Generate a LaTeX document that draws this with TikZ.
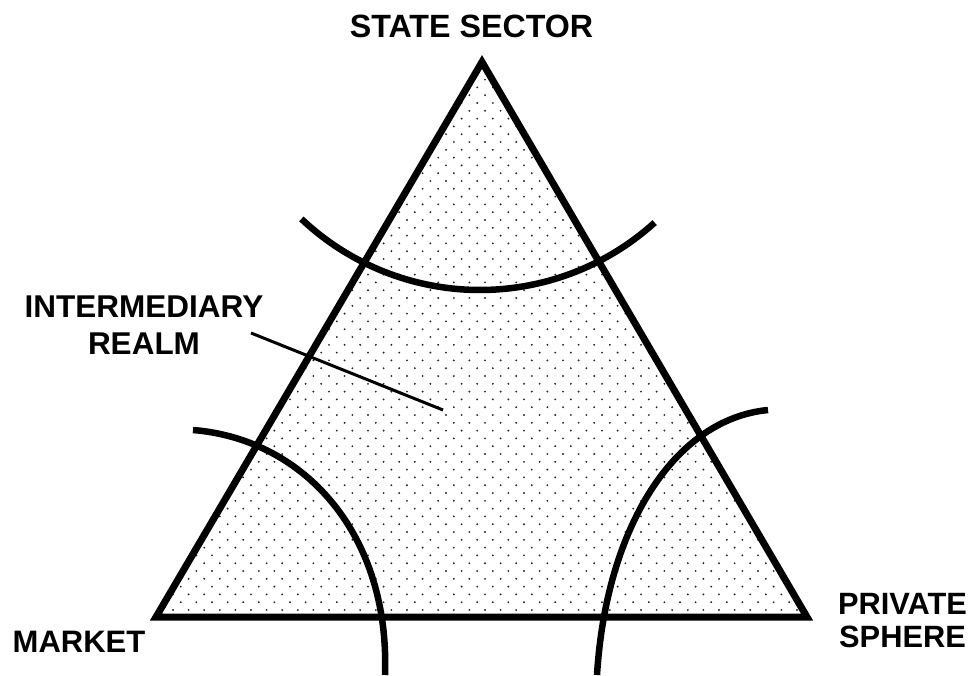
\documentclass[tikz,border=0pt]{standalone}
\usepackage{fontspec}
\setmainfont{Liberation Sans}
\begin{document}
\begin{tikzpicture}[x=1pt,y=-1pt,
  lbl/.style={font=\fontsize{31.5}{37}\selectfont\bfseries, inner sep=0pt, align=center},
  edgeline/.style={line width=7pt, line join=miter},
  band/.style={line width=6.5pt},
  pointer/.style={line width=3pt},
  dotfill/.style={fill=black!85}]
\useasboundingbox (0,0) rectangle (976,675);
\coordinate (L) at (156,617);
\coordinate (R) at (807,617);
\coordinate (T) at (482,62);
% dotted fill
\begin{scope}
  \clip (L) -- (R) -- (T) -- cycle;
  \foreach \i in {0,...,73} {
    \pgfmathsetmacro\yy{56.2+7.8*\i}
    \pgfmathsetmacro\off{mod(\i,2)*7.8}
    \foreach \j in {0,...,43} {
      \fill[dotfill] ({149.6+\off+15.6*\j},\yy) circle[radius=1.05];
    }
  }
\end{scope}
% triangle
\draw[edgeline] (L) -- (R) -- (T) -- cycle;
% arcs
\draw[band] plot[domain=133.4:47.8, samples=60, smooth] ({480+260*cos(\x)},{30+260*sin(\x)});
\coordinate (la) at (193,430);
\coordinate (lb) at (385,675);
\draw[band] (la) .. controls (305,439) and (390,535) .. (lb);
\coordinate (ra) at (768,410);
\coordinate (rb) at (597,675);
\draw[band] (ra) .. controls (674,419) and (606,528) .. (rb);
% labels
\node[lbl, font=\fontsize{32.2}{37}\selectfont\bfseries] (state) at (471.5,26) {STATE SECTOR};
\node[lbl] (inter) at (144,325.5) {INTERMEDIARY\\REALM};
\node[lbl, font=\fontsize{31}{37}\selectfont\bfseries] (market) at (79,641.5) {MARKET};
\node[lbl, font=\fontsize{30.8}{33}\selectfont\bfseries] (private) at (902.5,620.5) {PRIVATE\\SPHERE};
% pointer
\coordinate (p1) at (251,333);
\coordinate (p2) at (443,410);
\draw[pointer] (p1) -- (p2);
\end{tikzpicture}
\end{document}
